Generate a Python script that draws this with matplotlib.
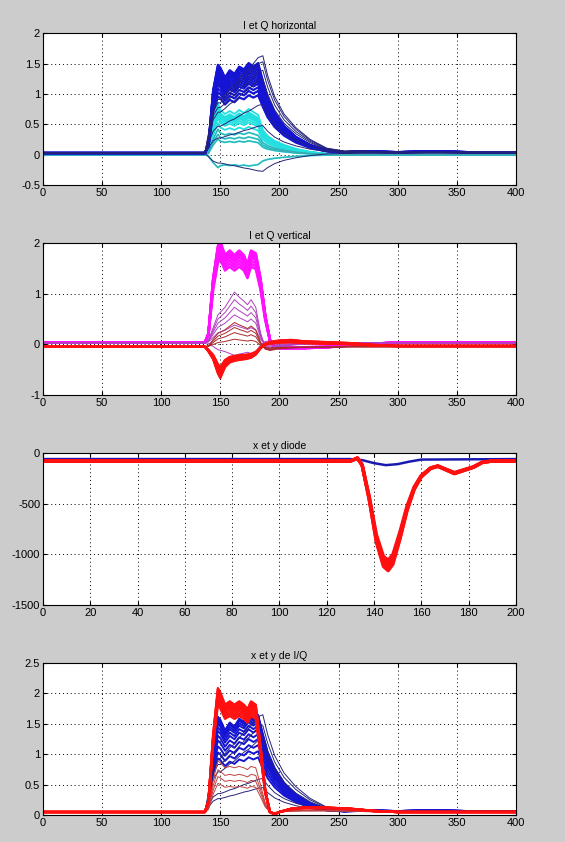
import numpy as np
import matplotlib.pyplot as plt

# ---- panel 1 : I et Q horizontal ----
h_x = [0, 137, 140, 144, 148, 150, 154, 158, 162, 166, 170, 174, 178, 182, 186, 190, 196, 204, 214, 226, 240, 255, 270, 300, 330, 360, 400]
h_blue_shape = [0, 0, 0.1, 0.7, 0.98, 0.95, 0.84, 0.92, 0.88, 0.96, 0.93, 1.0, 0.96, 1.0, 0.8, 0.62, 0.45, 0.3, 0.18, 0.09, 0.03, 0.01, 0.02, 0.01, 0.02, 0.01, 0.01]
h_cyan_shape = [0, 0, 0.1, 0.65, 1.05, 0.9, 0.82, 0.88, 0.82, 0.9, 0.84, 0.92, 0.86, 0.8, 0.5, 0.38, 0.28, 0.2, 0.12, 0.06, 0.02, 0.0, 0.0, 0.0, 0.0, 0.0, 0.0]
h_late_shape = [0, 0, 0.2, 0.45, 0.55, 0.55, 0.6, 0.66, 0.7, 0.76, 0.82, 0.86, 0.92, 0.98, 1.0, 0.8, 0.58, 0.4, 0.26, 0.14, 0.05, 0.02, 0.02, 0.01, 0.01, 0.01, 0.01]
h_blue_amp = [1.48, 1.46, 1.44, 1.42, 1.38, 1.34, 1.3, 1.26, 1.22, 1.18, 1.14, 1.08, 1.02, 0.95]
h_navy_amp = [1.6, 1.5, 1.36, 1.22, 0.8, 0.45, -0.3]
h_cyan_amp = [0.82, 0.76, 0.74, 0.72, 0.7, 0.68, 0.66, 0.62, 0.58, 0.5, 0.4, 0.32, 0.25, -0.2]
h_blue_base = 0.03
h_cyan_base = 0.0

# ---- panel 2 : I et Q vertical ----
v_x = [0, 137, 140, 144, 148, 150, 154, 158, 162, 166, 170, 173, 176, 180, 184, 188, 192, 196, 200, 210, 220, 240, 260, 280, 300, 400]
v_mag_shape = [0, 0, 0.1, 0.7, 1.05, 1.1, 0.95, 1.0, 0.95, 1.0, 0.95, 0.85, 1.0, 0.97, 0.7, 0.3, 0.03, -0.05, -0.06, -0.06, -0.06, -0.05, -0.03, -0.01, 0.0, 0.0]
v_thin_shape = [0, 0, 0.05, 0.3, 0.55, 0.6, 0.7, 0.85, 1.0, 0.9, 0.82, 0.75, 0.85, 0.7, 0.2, -0.1, -0.15, -0.12, -0.08, -0.05, -0.03, -0.02, 0.0, 0.0, 0.0, 0.0]
v_red_shape = [0, 0, -0.15, -0.4, -0.85, -1.0, -0.65, -0.5, -0.45, -0.42, -0.4, -0.38, -0.35, -0.25, -0.05, 0.1, 0.15, 0.18, 0.2, 0.22, 0.18, 0.15, 0.12, 0.06, 0.03, 0.03]
v_mag_amp = [1.82, 1.8, 1.78, 1.76, 1.74, 1.72, 1.7, 1.68, 1.62, 1.56, 1.5]
v_purple_amp = [1.0, 0.85, 0.7, 0.55, 0.35, -0.25]
v_brown_amp = [0.48, 0.38, 0.28, 0.15]
v_red_amp = [0.62, 0.6, 0.58, 0.55, 0.52, 0.5, 0.48, 0.45, 0.42, 0.4]
v_mag_base = 0.03
v_red_base = -0.05

# ---- panel 3 : x et y diode ----
d_blue_x = [0, 130, 135, 140, 145, 150, 155, 160, 200]
d_blue_y = [-60, -60, -70, -100, -120, -110, -85, -65, -60]
d_red_x = [0, 130, 133, 135, 138, 141, 144, 146, 148, 151, 154, 157, 160, 164, 167, 170, 174, 178, 182, 186, 190, 200]
d_red_y = [-80, -80, -50, -120, -450, -850, -1080, -1120, -1060, -820, -550, -350, -230, -150, -130, -160, -200, -170, -140, -90, -80, -80]
d_red_scale = [0.94, 0.97, 1.0, 1.02, 1.04]
d_red_base = -80

# ---- panel 4 : x et y de I/Q ----
q_red_shape = [0, 0, 0.1, 0.7, 1.12, 1.08, 0.97, 1.0, 0.97, 1.0, 0.97, 0.93, 1.0, 0.97, 0.6, 0.2, 0.0, -0.02, 0.0, 0.03, 0.04, 0.04, 0.03, 0.01, 0.0, 0.0]
q_red_amp = [1.82, 1.8, 1.77, 1.74, 1.72, 1.7, 1.66, 1.62, 1.58]
q_brown_amp = [0.75, 0.62, 0.52, 0.42]
q_blue_amp = [1.6, 1.58, 1.56, 1.52, 1.48, 1.42, 1.36, 1.28, 1.2, 1.1, 1.0, 0.9]
q_navy_amp = [1.6, 1.42, 1.2, 0.55, 0.4]
q_base = 0.05

titles = ['I et Q horizontal', 'I et Q vertical', 'x et y diode', 'x et y de I/Q']

fig = plt.figure(figsize=(5.65, 8.42), dpi=100)
fig.patch.set_facecolor('#cccccc')
plt.rcParams['font.family'] = ['Liberation Sans', 'DejaVu Sans']

bottoms = [0.780, 0.531, 0.2815, 0.032]
axes = [fig.add_axes([0.076, b, 0.837, 0.1805]) for b in bottoms]

def style(ax, title, xmax, yticks, ylabels, xstep):
    ax.set_xlim(0, xmax)
    ax.set_ylim(yticks[0], yticks[-1])
    ax.set_xticks(np.arange(0, xmax + 1, xstep))
    ax.set_yticks(yticks)
    ax.set_yticklabels(ylabels)
    ax.tick_params(direction='in', top=True, right=True, labelsize=8, length=3, pad=2, width=0.8)
    ax.grid(True, linestyle=(0, (1, 3)), color='black', linewidth=0.7)
    ax.set_axisbelow(True)
    ax.set_title(title, fontsize=7.5, pad=3)
    for s in ax.spines.values():
        s.set_linewidth(0.8)

# panel 1
ax = axes[0]
hx = np.array(h_x)
for a in h_cyan_amp:
    ax.plot(hx, h_cyan_base + a * np.array(h_cyan_shape), color='#22e0e0', lw=1.3)
for a in h_cyan_amp[-4:]:
    ax.plot(hx, h_cyan_base + a * np.array(h_cyan_shape), color='#3aa8b0', lw=0.7)
for a in h_blue_amp:
    ax.plot(hx, h_blue_base + a * np.array(h_blue_shape), color='#1414d2', lw=1.6)
for a in h_navy_amp:
    ax.plot(hx, h_blue_base + a * np.array(h_late_shape), color='#24247a', lw=0.7)
style(ax, titles[0], 400, [-0.5, 0, 0.5, 1, 1.5, 2], ['-0.5', '0', '0.5', '1', '1.5', '2'], 50)

# panel 2
ax = axes[1]
vx = np.array(v_x)
for a in v_mag_amp:
    ax.plot(vx, v_mag_base + a * np.array(v_mag_shape), color='#ff10ff', lw=1.8)
for a in v_purple_amp:
    ax.plot(vx, v_mag_base + a * np.array(v_thin_shape), color='#b040c0', lw=0.7)
for a in v_brown_amp:
    ax.plot(vx, v_red_base + a * np.array(v_thin_shape), color='#a82a2a', lw=0.7)
for a in v_red_amp:
    ax.plot(vx, v_red_base + a * np.array(v_red_shape), color='#ff1010', lw=1.6)
style(ax, titles[1], 400, [-1, 0, 1, 2], ['-1', '0', '1', '2'], 50)

# panel 3
ax = axes[2]
ax.plot(d_blue_x, d_blue_y, color='#1a1ab0', lw=1.8)
ry = np.array(d_red_y)
for s in d_red_scale:
    ax.plot(d_red_x, d_red_base + s * (ry - d_red_base), color='#ff1010', lw=2.4)
style(ax, titles[2], 200, [-1500, -1000, -500, 0], ['-1500', '-1000', '-500', '0'], 20)

# panel 4
ax = axes[3]
for a in q_blue_amp:
    ax.plot(hx, q_base + a * np.array(h_blue_shape), color='#1414d2', lw=1.4)
for a in q_navy_amp:
    ax.plot(hx, q_base + a * np.array(h_late_shape), color='#24247a', lw=0.7)
for a in q_brown_amp:
    ax.plot(vx, q_base + a * np.array(q_red_shape), color='#c04040', lw=0.7)
for a in q_red_amp:
    ax.plot(vx, q_base + a * np.array(q_red_shape), color='#ff1010', lw=1.7)
style(ax, titles[3], 400, [0, 0.5, 1, 1.5, 2, 2.5], ['0', '0.5', '1', '1.5', '2', '2.5'], 50)

fig.savefig('out.png', dpi=100, facecolor=fig.get_facecolor())
